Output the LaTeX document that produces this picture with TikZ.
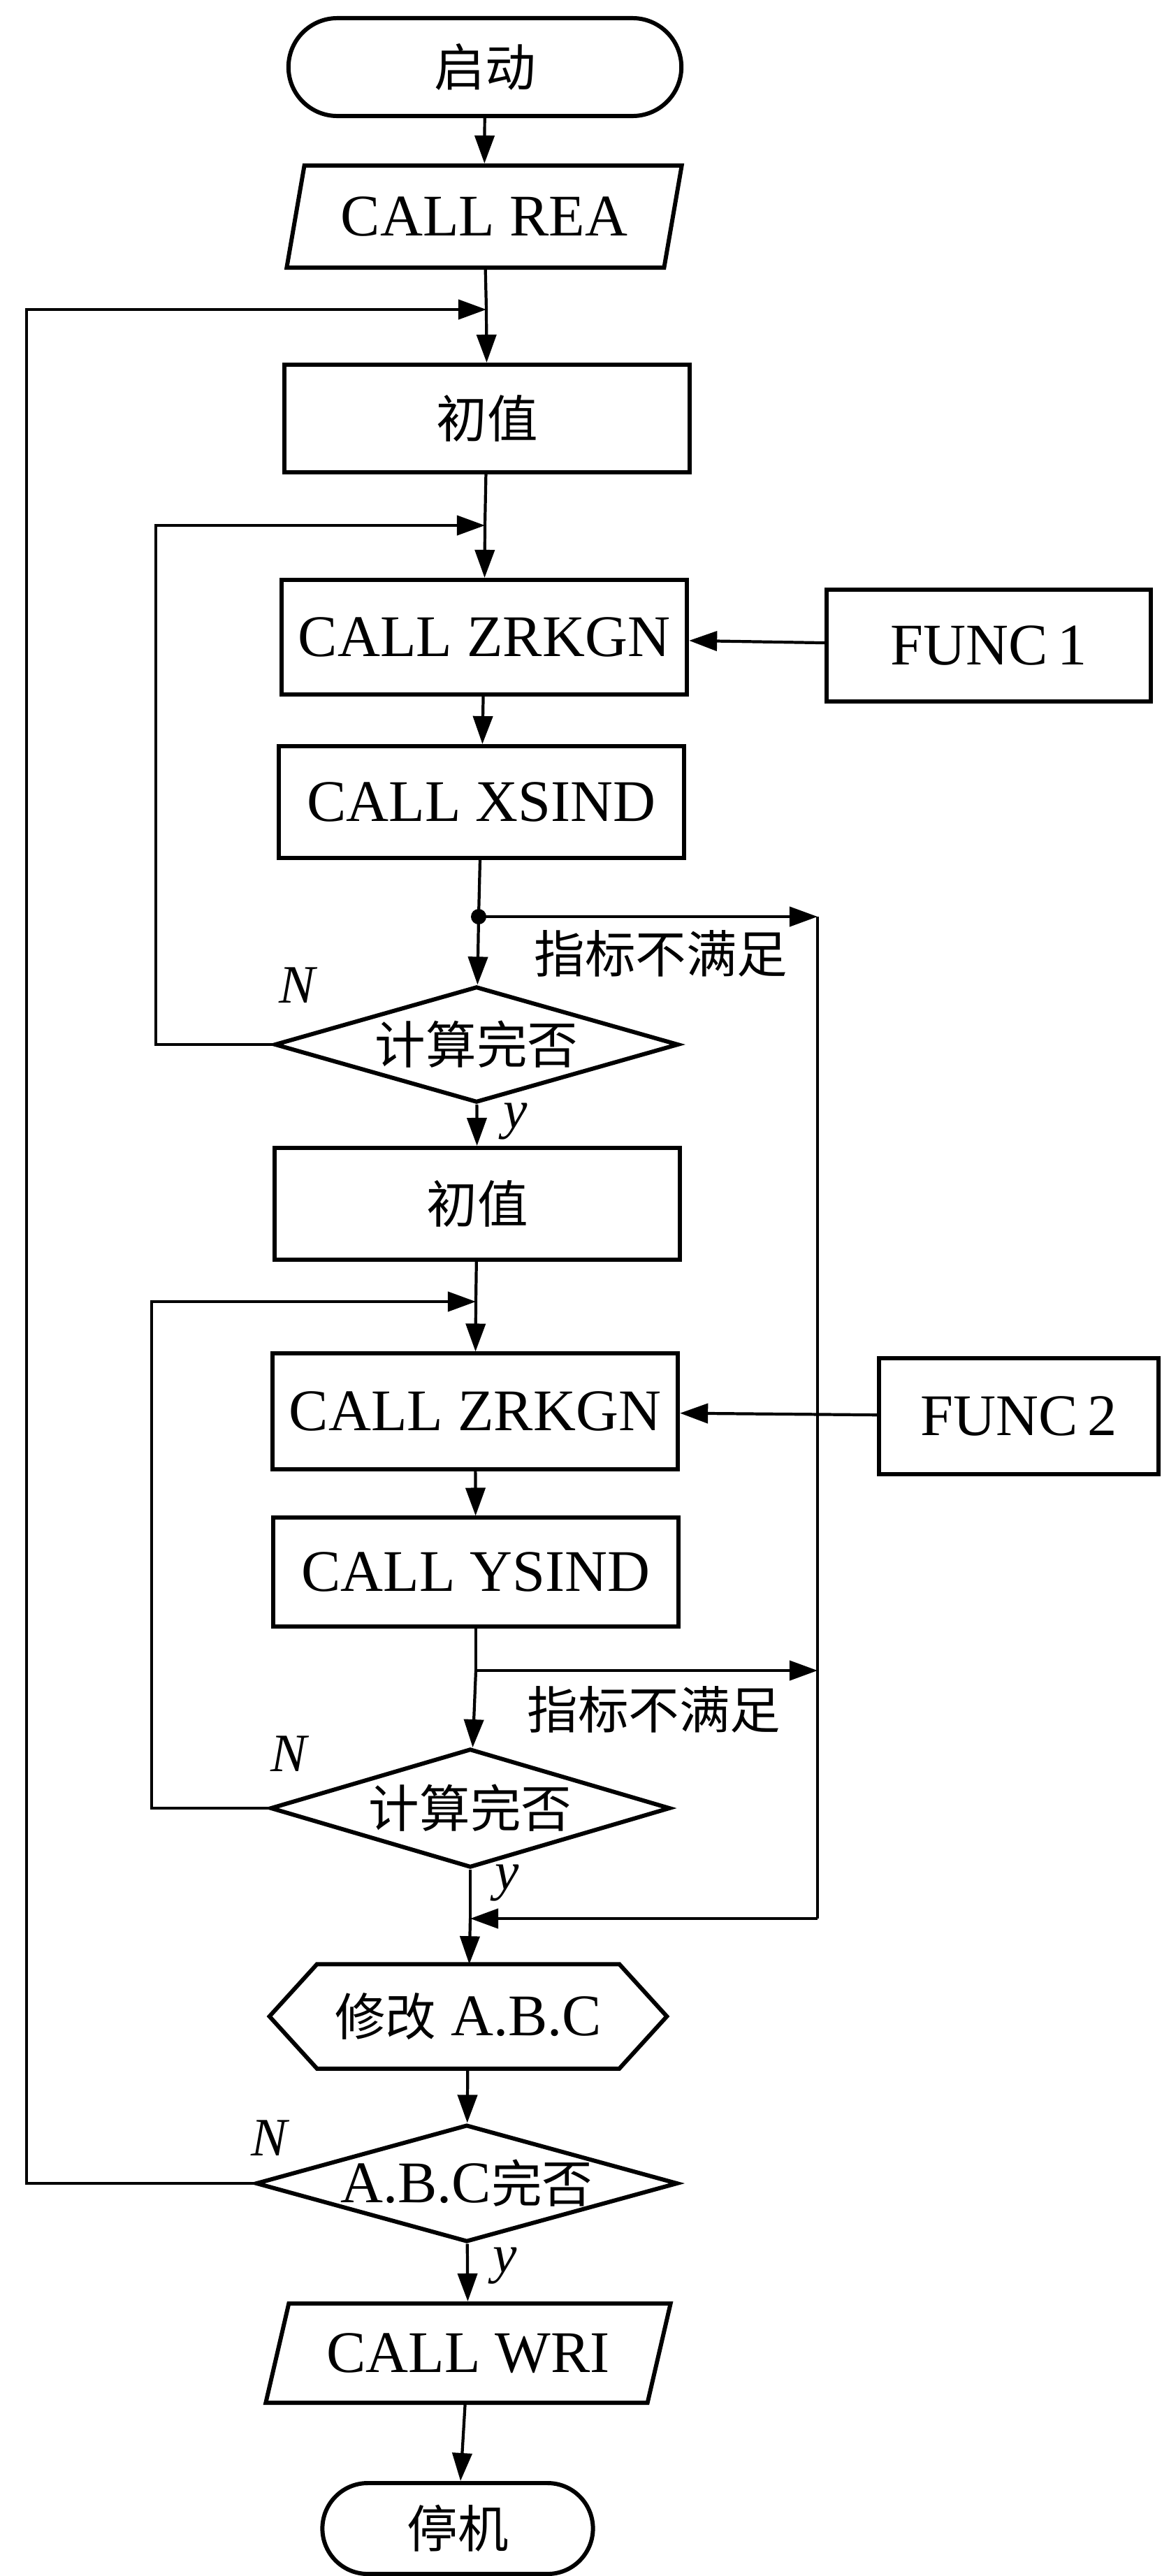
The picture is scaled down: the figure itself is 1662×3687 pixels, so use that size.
\documentclass[tikz,border=0pt]{standalone}
\usepackage{fontspec}
\setmainfont{Liberation Serif}
\newfontfamily\cjk[Scale=0.86]{Noto Sans CJK SC}
\usetikzlibrary{shapes.geometric,shapes.misc,arrows.meta}

\begin{document}
\begin{tikzpicture}[
    x=0.01cm, y=-0.01cm,
    box/.style={draw, line width=1.7pt, inner sep=0pt, minimum width=5.8cm, minimum height=1.6cm},
    term/.style={draw, rounded rectangle, line width=1.7pt, inner sep=0pt},
    io/.style={draw, trapezium, trapezium stretches body, line width=1.7pt, inner sep=0pt},
    test/.style={draw, diamond, aspect=3.6, line width=1.7pt, inner sep=0pt},
    prep/.style={inner sep=0pt},
    flow/.style={line width=1.2pt},
    lbl/.style={font=\fontsize{22}{26}\selectfont\itshape},
    >={Triangle[length=4mm,width=2.8mm]},
    font=\fontsize{24}{28}\selectfont
  ]
  \useasboundingbox (0,0) rectangle (1662,3687);

  %% ---- Main column ----
  \node[term, minimum width=5.62cm, minimum height=1.40cm] (start) at (694,96) {\cjk 启动};
  \node[io, trapezium left angle=66, trapezium right angle=114,
    minimum width=5.65cm, minimum height=1.46cm] (rea) at (693,310) {CALL REA};
  \node[box, minimum height=1.54cm] (init1) at (697,599) {\cjk 初值};
  \node[box, minimum height=1.64cm] (zrk1) at (693,912) {CALL ZRKGN};
  \node[box] (xsind) at (689,1148) {CALL XSIND};
  \node[test, minimum width=5.78cm, minimum height=1.66cm] (dec1) at (682,1495) {\cjk 计算完否};

  \node[box] (init2) at (683,1723) {\cjk 初值};
  \node[box, minimum height=1.65cm] (zrk2) at (680,2020) {CALL ZRKGN};
  \node[box, minimum height=1.55cm] (ysind) at (681,2250) {CALL YSIND};
  \node[test, minimum width=5.72cm, minimum height=1.70cm] (dec2) at (673,2588) {\cjk 计算完否};

  % hexagon: outline drawn round the node below
  \node[prep, minimum width=5.67cm, minimum height=1.48cm] (mod) at (670,2886) {{\cjk 修改} A.B.C};
  \draw[line width=1.7pt] (mod.west) -- ([xshift=0.68cm]mod.north west)
    -- ([xshift=-0.68cm]mod.north east) -- (mod.east)
    -- ([xshift=-0.68cm]mod.south east) -- ([xshift=0.68cm]mod.south west) -- cycle;
  \node[test, minimum width=5.71cm, minimum height=1.56cm] (dec3) at (668,3125) {A.B.C{\cjk 完否}};
  \node[io, trapezium left angle=60, trapezium right angle=120,
    minimum width=5.79cm, minimum height=1.42cm] (wri) at (670,3368) {CALL WRI};
  \node[term, minimum width=3.87cm, minimum height=1.30cm] (stop) at (655,3619) {\cjk 停机};

  %% ---- Function boxes ----
  \node[box, minimum width=4.64cm] (func1) at (1415,924) {FUNC\,1};
  \node[box, minimum width=4.0cm, minimum height=1.65cm] (func2) at (1458,2027) {FUNC\,2};

  % junction points
  \coordinate (j0) at (696,443);
  \coordinate (o0) at (38,443);
  \coordinate (j1) at (694,752);
  \coordinate (l1) at (223,752);
  \coordinate (b1) at (685,1312);
  \coordinate (r1) at (1170,1312);
  \coordinate (j2) at (681,1863);
  \coordinate (l2) at (217,1863);
  \coordinate (b2) at (681,2391);
  \coordinate (r2) at (1170,2391);
  \coordinate (j3) at (673,2746);
  \coordinate (r3) at (1170,2746);

  %% ---- Connectors ----
  \draw[flow,->] (start) -- (rea);
  \draw[flow] (rea) -- (j0);
  \draw[flow,->] (j0) -- (init1);
  \draw[flow] (init1) -- (j1);
  \draw[flow,->] (j1) -- (zrk1);
  \draw[flow,->] (func1) -- (zrk1);
  \draw[flow,->] (zrk1) -- (xsind);
  \draw[flow] (xsind) -- (b1);
  \draw[flow,->] (b1) -- (dec1);
  \fill (b1) circle (1.1mm);
  \draw[flow,->] (b1) -- (r1);
  \draw[flow,->] (dec1.west) -| (l1) -- (j1);
  \draw[flow,->] (dec1) -- (init2);

  \draw[flow] (init2) -- (j2);
  \draw[flow,->] (j2) -- (zrk2);
  \draw[flow,->] (func2) -- (zrk2);
  \draw[flow,->] (zrk2) -- (ysind);
  \draw[flow] (ysind) -- (b2);
  \draw[flow,->] (b2) -- (dec2);
  \draw[flow,->] (b2) -- (r2);
  \draw[flow,->] (dec2.west) -| (l2) -- (j2);

  % back from the right line
  \draw[flow] (r1) -- (r3);
  \draw[flow,->] (r3) -- (j3);
  \draw[flow] (dec2) -- (j3);
  \draw[flow,->] (j3) -- (mod);
  \draw[flow,->] (mod) -- (dec3);
  \draw[flow,->] (dec3) -- (wri);
  \draw[flow,->] (wri) -- (stop);
  % outer loop
  \draw[flow,->] (dec3.west) -| (o0) -- (j0);

  %% ---- Labels ----
  \node (cond1) at (946,1365) {\cjk 指标不满足};
  \node (cond2) at (936,2447) {\cjk 指标不满足};
  \node[lbl] (n1) at (425,1410) {N};
  \node[lbl] (n2) at (413,2510) {N};
  \node[lbl] (n3) at (385,3060) {N};
  \node[lbl] (y1) at (738,1605) {y};
  \node[lbl] (y2) at (726,2695) {y};
  \node[lbl] (y3) at (723,3243) {y};

\end{tikzpicture}
\end{document}
